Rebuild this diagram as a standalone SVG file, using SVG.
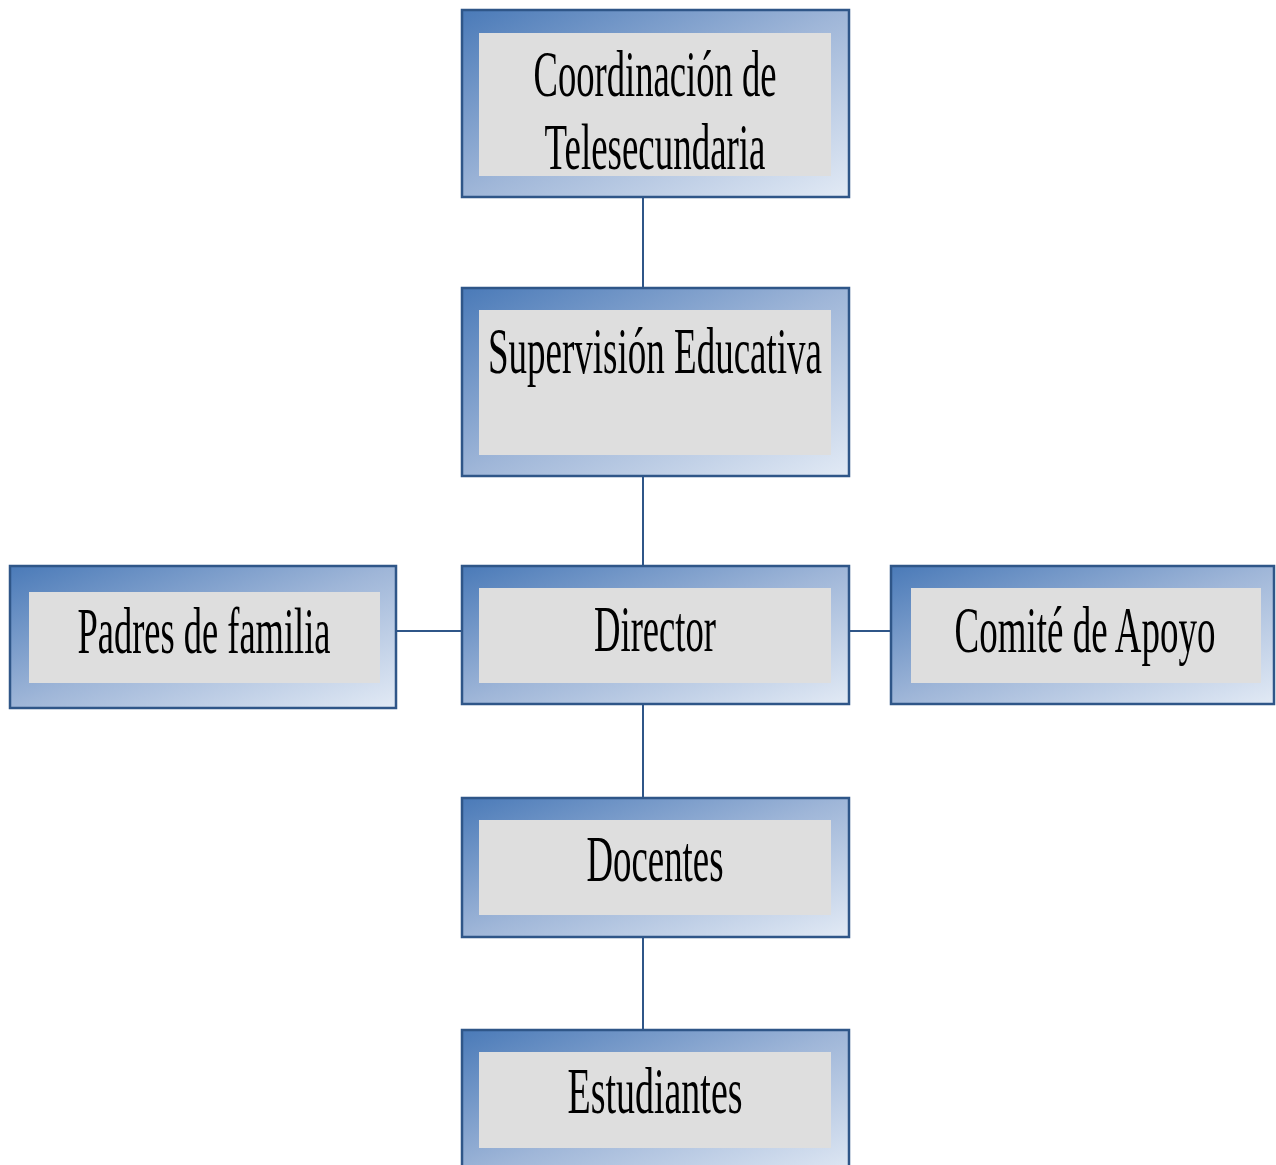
<svg xmlns="http://www.w3.org/2000/svg" width="1276" height="1165" viewBox="0 0 1276 1165">
<defs>
<linearGradient id="g" x1="0" y1="0" x2="1" y2="1">
<stop offset="0" stop-color="#4a7ab8"/>
<stop offset="0.5" stop-color="#9fb6d8"/>
<stop offset="1" stop-color="#e2eaf5"/>
</linearGradient>
<style>
.o{fill:url(#g);stroke:#2f5688;stroke-width:2.5}
.i{fill:#dedede}
.t{font-family:"Liberation Serif","Times New Roman",serif;font-size:66px;fill:#000;text-anchor:middle}
.c{stroke:#2f5688;stroke-width:2;fill:none}
</style>
</defs>
<rect width="1276" height="1165" fill="#fff"/>
<g id="connectors">
<line class="c" x1="643" y1="197" x2="643" y2="288"/>
<line class="c" x1="643" y1="476" x2="643" y2="566"/>
<line class="c" x1="643" y1="704" x2="643" y2="798"/>
<line class="c" x1="643" y1="937" x2="643" y2="1030"/>
<line class="c" x1="396" y1="631" x2="462" y2="631"/>
<line class="c" x1="849" y1="631" x2="891" y2="631"/>
</g>
<g id="coordinacion">
<rect class="o" x="462" y="10" width="387" height="187"/>
<rect class="i" x="479" y="33" width="352" height="143"/>
<text class="t" transform="translate(655,96) scale(0.5,1)" x="0" y="0" textLength="486" lengthAdjust="spacingAndGlyphs">Coordinación de</text>
<text class="t" transform="translate(655,169) scale(0.5,1)" x="0" y="0" textLength="442" lengthAdjust="spacingAndGlyphs">Telesecundaria</text>
</g>
<g id="supervision">
<rect class="o" x="462" y="288" width="387" height="188"/>
<rect class="i" x="479" y="310" width="352" height="145"/>
<text class="t" transform="translate(655,373) scale(0.5,1)" x="0" y="0" textLength="668" lengthAdjust="spacingAndGlyphs">Supervisión Educativa</text>
</g>
<g id="padres">
<rect class="o" x="10" y="566" width="386" height="142"/>
<rect class="i" x="29" y="592" width="351" height="91"/>
<text class="t" transform="translate(204,653) scale(0.5,1)" x="0" y="0" textLength="506" lengthAdjust="spacingAndGlyphs">Padres de familia</text>
</g>
<g id="director">
<rect class="o" x="462" y="566" width="387" height="138"/>
<rect class="i" x="479" y="588" width="352" height="95"/>
<text class="t" transform="translate(655,651) scale(0.5,1)" x="0" y="0" textLength="244" lengthAdjust="spacingAndGlyphs">Director</text>
</g>
<g id="comite">
<rect class="o" x="891" y="566" width="383" height="138"/>
<rect class="i" x="911" y="588" width="350" height="95"/>
<text class="t" transform="translate(1085,652) scale(0.5,1)" x="0" y="0" textLength="522" lengthAdjust="spacingAndGlyphs">Comité de Apoyo</text>
</g>
<g id="docentes">
<rect class="o" x="462" y="798" width="387" height="139"/>
<rect class="i" x="479" y="820" width="352" height="95"/>
<text class="t" transform="translate(655,881) scale(0.5,1)" x="0" y="0" textLength="274" lengthAdjust="spacingAndGlyphs">Docentes</text>
</g>
<g id="estudiantes">
<rect class="o" x="462" y="1030" width="387" height="150"/>
<rect class="i" x="479" y="1052" width="352" height="96"/>
<text class="t" transform="translate(655,1113) scale(0.5,1)" x="0" y="0" textLength="350" lengthAdjust="spacingAndGlyphs">Estudiantes</text>
</g>
</svg>
